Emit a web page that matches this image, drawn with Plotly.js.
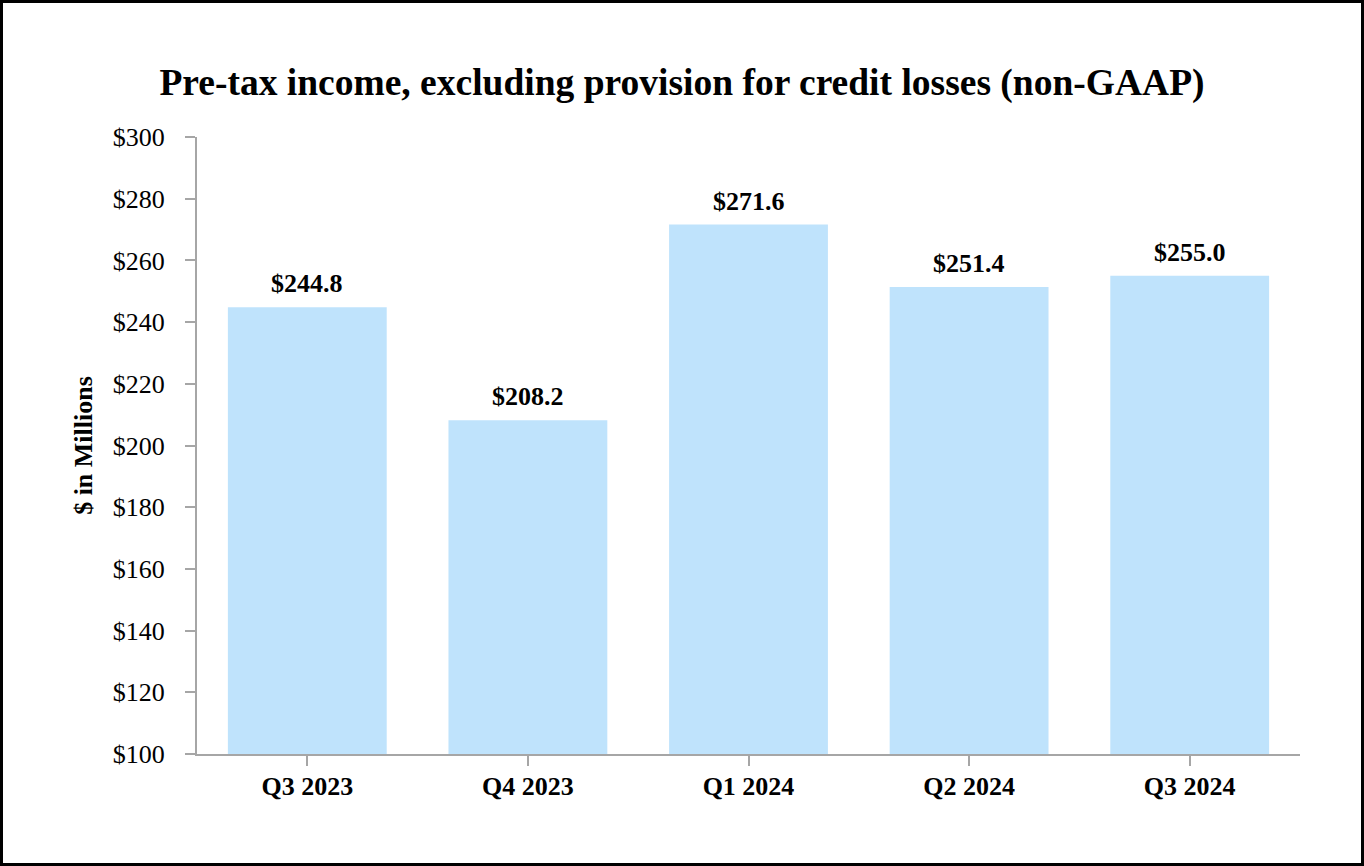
<!DOCTYPE html>
<html>
<head>
<meta charset="utf-8">
<script src="https://cdn.plot.ly/plotly-3.0.1.min.js"></script>
<style>
html,body{margin:0;padding:0;background:#fff;}
#frame{width:1358px;height:860px;border:3px solid #000;}
#chart{width:1358px;height:860px;}
</style>
</head>
<body>
<div id="frame"><div id="chart"></div></div>
<script>
const categories = ["Q3 2023", "Q4 2023", "Q1 2024", "Q2 2024", "Q3 2024"];
const values = [244.8, 208.2, 271.6, 251.4, 255.0];
const tickValues = [100, 120, 140, 160, 180, 200, 220, 240, 260, 280, 300];
const tickLabels = tickValues.map(v => "$" + v);
const barLabels = values.map(v => "$" + v.toFixed(1));

const serif = "Liberation Serif, Times New Roman, serif";

const trace = {
  type: "bar",
  x: categories,
  y: values,
  base: 0,
  marker: {color: "#BFE3FC"},
  hoverinfo: "skip"
};

const annotations = categories.map((c, i) => ({
  x: c, y: values[i], xref: "x", yref: "y",
  text: "<b>" + barLabels[i] + "</b>",
  showarrow: false, yanchor: "bottom", yshift: 7,
  font: {family: serif, size: 26, color: "#000"}
}));

const layout = {
  width: 1358, height: 860,
  margin: {l: 194, r: 61, t: 134, b: 109},
  paper_bgcolor: "#fff", plot_bgcolor: "#fff",
  bargap: 0.28,
  showlegend: false,
  title: {
    text: "<b>Pre-tax income, excluding provision for credit losses (non-GAAP)</b>",
    font: {family: serif, size: 37.5, color: "#000"},
    x: 0.5, xanchor: "center", y: 1 - 79/860, yanchor: "middle", yref: "container"
  },
  xaxis: {
    type: "category",
    showline: true, linecolor: "#A6A6A6", linewidth: 2,
    ticks: "outside", ticklen: 10, tickwidth: 2, tickcolor: "#A6A6A6",
    tickfont: {family: serif, size: 26, color: "#000"},
    showgrid: false, zeroline: false,
    ticklabelstandoff: -2,
    ticktext: categories.map(c => "<b>" + c + "</b>"),
    tickvals: categories,
    tickmode: "array"
  },
  yaxis: {
    range: [100, 300],
    tickmode: "array", tickvals: tickValues, ticktext: tickLabels,
    showline: true, linecolor: "#A6A6A6", linewidth: 2,
    ticks: "outside", ticklen: 10, tickwidth: 2, tickcolor: "#A6A6A6",
    tickfont: {family: serif, size: 26, color: "#000"},
    showgrid: false, zeroline: false,
    ticklabelstandoff: 15,
    title: {text: "<b>$ in Millions</b>", font: {family: serif, size: 26, color: "#000"}, standoff: 13}
  },
  annotations: annotations
};

Plotly.newPlot("chart", [trace], layout, {displayModeBar: false, staticPlot: true});
</script>
</body>
</html>
